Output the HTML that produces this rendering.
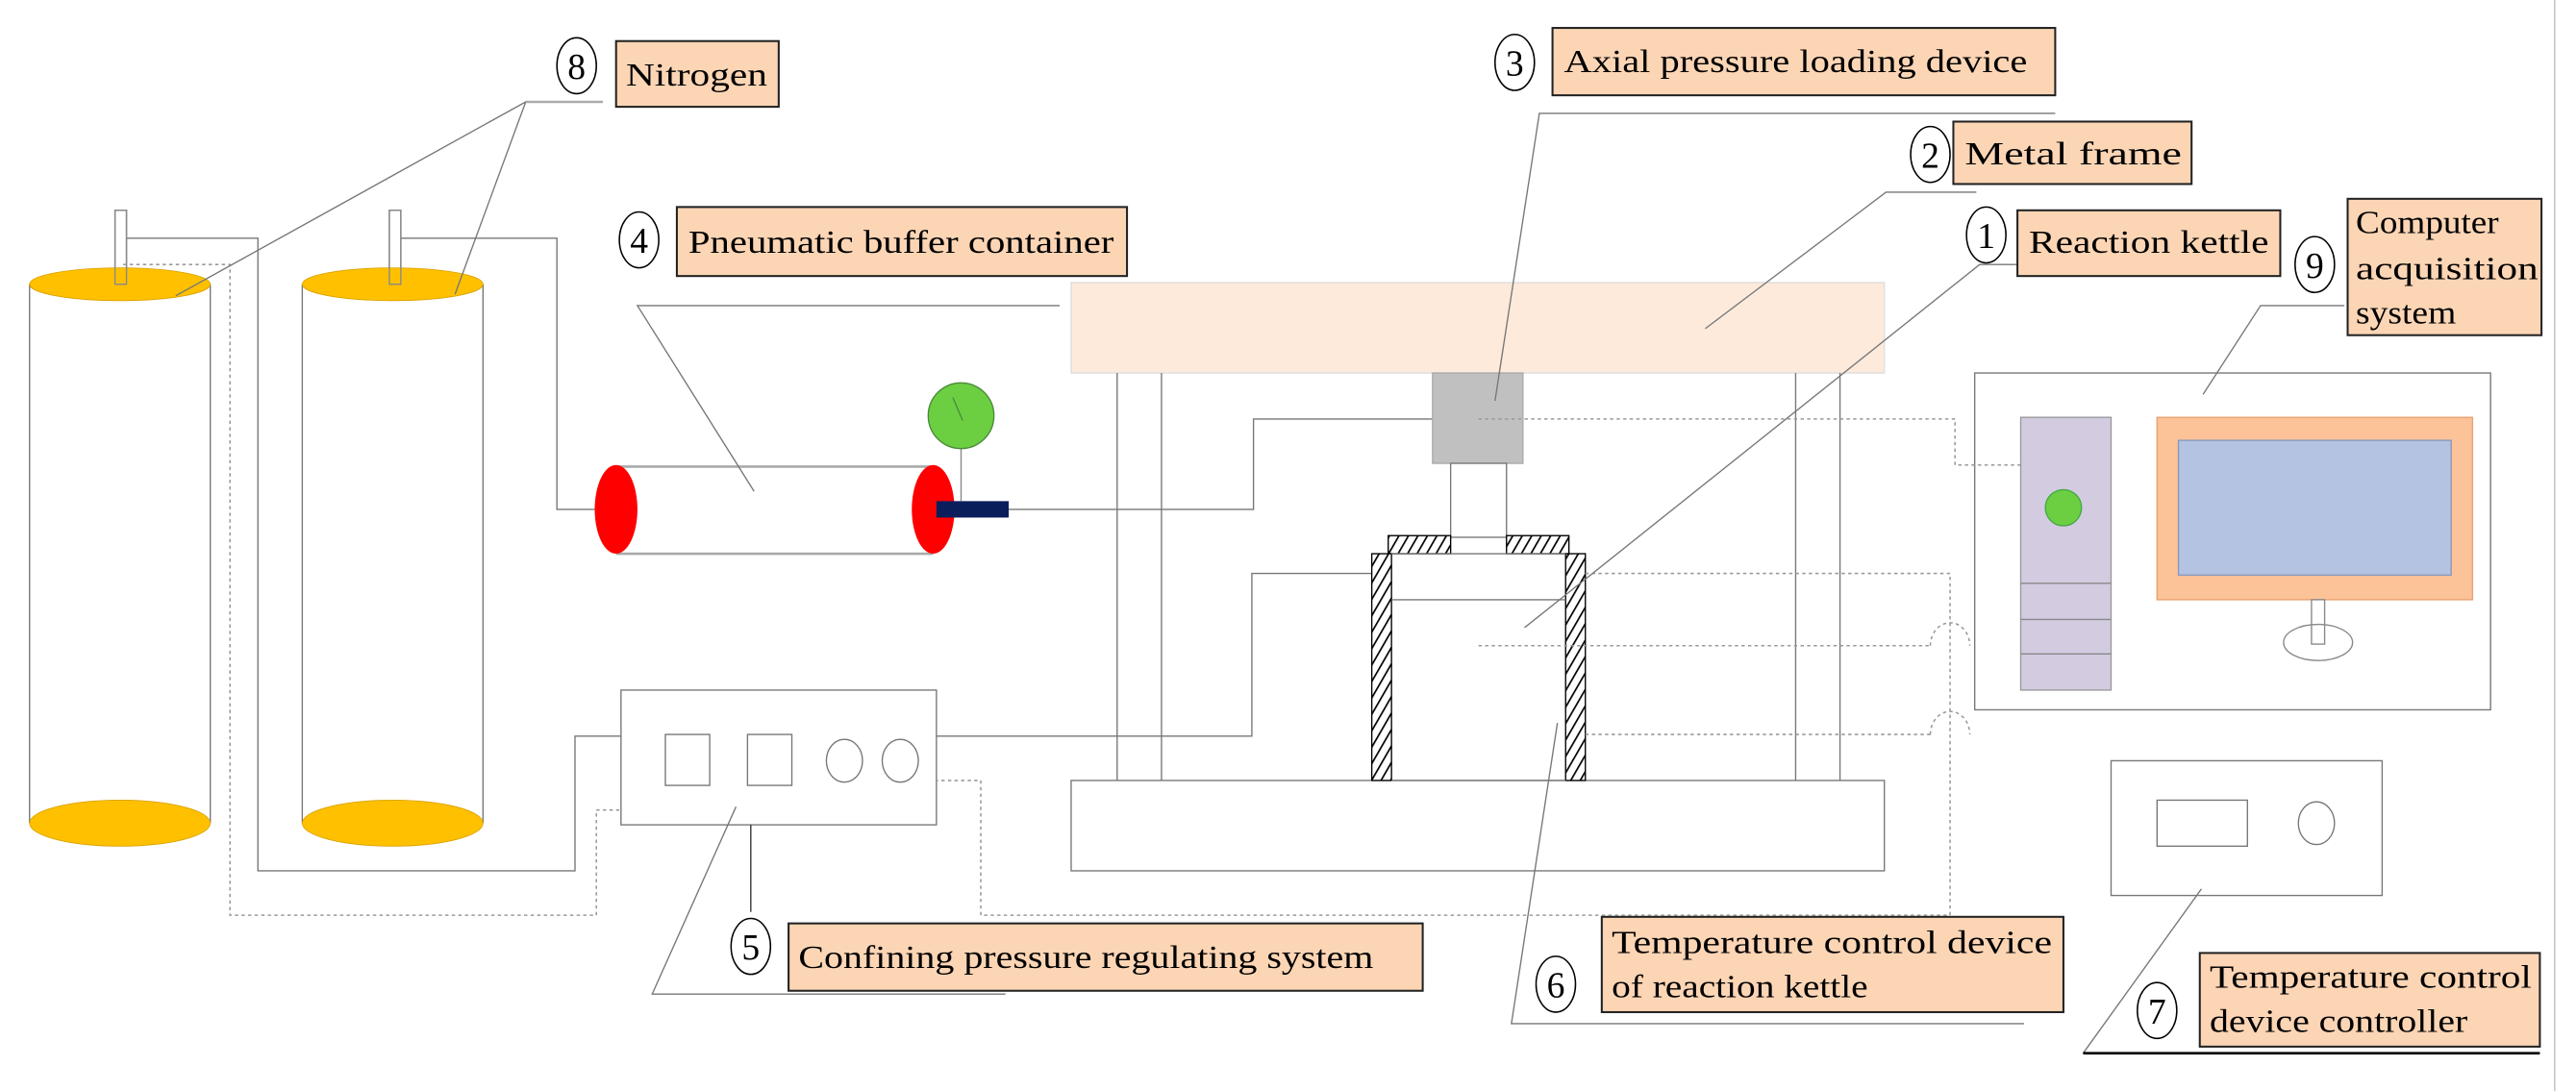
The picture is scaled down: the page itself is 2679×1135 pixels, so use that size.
<!DOCTYPE html>
<html><head><meta charset="utf-8"><style>
html,body{margin:0;padding:0;background:#fff;width:2679px;height:1135px;overflow:hidden}
svg{display:block}
text{font-family:"Liberation Serif",serif;fill:#000}
</style></head><body>
<svg width="2679" height="1135" viewBox="0 0 1568 664" preserveAspectRatio="none" xmlns="http://www.w3.org/2000/svg">
<defs>
<pattern id="h" width="5" height="5" patternUnits="userSpaceOnUse" patternTransform="rotate(30)">
<rect width="5" height="5" fill="#fff"/><line x1="0" y1="0" x2="0" y2="5" stroke="#000" stroke-width="2"/>
</pattern>
</defs>
<g fill="none" stroke="#777" stroke-width="0.8">
<!-- right border -->
<line x1="1555" y1="0" x2="1555" y2="664" stroke="#bbb"/>
<!-- cylinders -->
<line x1="18" y1="173" x2="18" y2="501"/><line x1="128" y1="173" x2="128" y2="501"/>
<line x1="184" y1="173" x2="184" y2="501"/><line x1="294" y1="173" x2="294" y2="501"/>
<rect x="70" y="128" width="7" height="45" fill="#fff"/>
<rect x="237" y="128" width="7" height="45" fill="#fff"/>
<!-- pipes -->
<polyline points="77,145 157,145 157,530 350,530 350,448 378,448"/>
<polyline points="244,145 339,145 339,310 370,310"/>
<polyline points="614,310 763,310 763,255 872,255"/>
<polyline points="570,448 762,448 762,349 835,349"/>
<!-- frame -->
<rect x="652" y="172" width="495" height="55" fill="#fdeadb" stroke="#ddd"/>
<line x1="680" y1="227" x2="680" y2="475"/><line x1="707" y1="227" x2="707" y2="475"/>
<line x1="1093" y1="227" x2="1093" y2="475"/><line x1="1120" y1="227" x2="1120" y2="475"/>
<rect x="652" y="475" width="495" height="55" fill="#fff"/>
<rect x="872" y="227" width="55" height="55" fill="#c0c0c0" stroke="#aaa"/>
<rect x="883" y="282" width="34" height="45" fill="#fff"/>
<rect x="845" y="326" width="38" height="11" fill="url(#h)" stroke="#000"/>
<rect x="917" y="326" width="38" height="11" fill="url(#h)" stroke="#000"/>
<rect x="835" y="337" width="12" height="138" fill="url(#h)" stroke="#000"/>
<rect x="953" y="337" width="12" height="138" fill="url(#h)" stroke="#000"/>
<line x1="847" y1="337" x2="953" y2="337"/><line x1="847" y1="365" x2="953" y2="365"/>
<line x1="847" y1="475" x2="953" y2="475"/>
<!-- buffer -->
<line x1="375" y1="284" x2="568" y2="284" stroke="#aaa" stroke-width="1.5"/>
<line x1="375" y1="337" x2="568" y2="337" stroke="#aaa" stroke-width="1.5"/>
<!-- boxes -->
<rect x="378" y="420" width="192" height="82" fill="#fff"/>
<rect x="405" y="447" width="27" height="31"/><rect x="455" y="447" width="27" height="31"/>
<ellipse cx="514" cy="463" rx="11" ry="13"/><ellipse cx="548" cy="463" rx="11" ry="13"/>
<line x1="457" y1="502" x2="457" y2="555" stroke="#333"/>
<rect x="1285" y="463" width="165" height="82" fill="#fff"/>
<rect x="1313" y="487" width="55" height="28"/>
<ellipse cx="1410" cy="501" rx="11" ry="13"/>
<rect x="1202" y="227" width="314" height="205" fill="#fff"/>
</g>
<!-- computer -->
<rect x="1230" y="254" width="55" height="166" fill="#d3cbe0" stroke="#999" stroke-width="0.8"/>
<g stroke="#888" stroke-width="0.8"><line x1="1230" y1="355" x2="1285" y2="355"/><line x1="1230" y1="377" x2="1285" y2="377"/><line x1="1230" y1="398" x2="1285" y2="398"/></g>
<circle cx="1256" cy="309" r="11" fill="#6ccf42" stroke="#4a4" stroke-width="0.8"/>
<rect x="1313" y="254" width="192" height="111" fill="#fbc397" stroke="#e9a070" stroke-width="0.8"/>
<rect x="1326" y="268" width="166" height="82" fill="#b4c3e2" stroke="#8899bb" stroke-width="0.8"/>
<rect x="1407" y="365" width="8" height="27" fill="#fff" stroke="#888" stroke-width="0.8"/>
<ellipse cx="1411" cy="391" rx="21" ry="11" fill="none" stroke="#888" stroke-width="0.8"/>
<!-- cylinders ends -->
<ellipse cx="73" cy="173" rx="55" ry="10" fill="#ffc000" stroke="#d9a200" stroke-width="0.5"/>
<ellipse cx="239" cy="173" rx="55" ry="10" fill="#ffc000" stroke="#d9a200" stroke-width="0.5"/>
<ellipse cx="73" cy="501" rx="55" ry="14" fill="#ffc000" stroke="#d9a200" stroke-width="0.5"/>
<ellipse cx="239" cy="501" rx="55" ry="14" fill="#ffc000" stroke="#d9a200" stroke-width="0.5"/>
<rect x="70" y="128" width="7" height="45" fill="none" stroke="#888" stroke-width="0.8"/>
<rect x="237" y="128" width="7" height="45" fill="none" stroke="#888" stroke-width="0.8"/>
<ellipse cx="375" cy="310" rx="13" ry="27" fill="#ff0000"/>
<ellipse cx="568" cy="310" rx="13" ry="27" fill="#ff0000"/>
<rect x="570" y="305" width="44" height="10" fill="#0a1e5c"/>
<line x1="585" y1="273" x2="585" y2="305" stroke="#888" stroke-width="0.8"/>
<circle cx="585" cy="253" r="20" fill="#6ccf42" stroke="#4a8a3a" stroke-width="0.8"/>
<line x1="580" y1="242" x2="586" y2="256" stroke="#4a8a3a" stroke-width="0.8"/>
<!-- dotted -->
<g fill="none" stroke="#999" stroke-width="0.9" stroke-dasharray="2,2">
<polyline points="900,255 1190,255 1190,283 1230,283"/>
<polyline points="965,349 1187,349 1187,557 597,557 597,475 570,475"/>
<polyline points="75,161 140,161 140,557 363,557 363,493 378,493"/>
<polyline points="900,393 1175,393 M1199,393 1230,393"/>
<path d="M1175,393 A12,14 0 0 1 1199,393"/>
<polyline points="965,447 1175,447 M1199,447 1250,447 1250,501 1285,501"/>
<path d="M1175,447 A12,14 0 0 1 1199,447"/>
</g>
<!-- leader lines -->
<g fill="none" stroke="#777" stroke-width="0.8">
<polyline points="107,180 320,62 277,179"/><line x1="320" y1="62" x2="367" y2="62" stroke="#aaa" stroke-width="1.5"/>
<polyline points="459,299 388,186 645,186"/>
<polyline points="910,244 937,69 1251,69"/>
<polyline points="1038,200 1148,117 1203,117"/>
<polyline points="928,382 1205,161 1228,161"/>
<polyline points="1341,240 1376,186 1427,186"/>
<polyline points="448,491 397,605 612,605"/>
<polyline points="948,440 920,623 1232,623"/>
<polyline points="1340,541 1268,641"/>
<line x1="1268" y1="641" x2="1546" y2="641" stroke="#000" stroke-width="1.5"/>
</g>
<!-- labels -->
<g stroke="#222" stroke-width="1.2" fill="#fcd5b5">
<rect x="375" y="25" width="99" height="40"/>
<rect x="412" y="126" width="274" height="42"/>
<rect x="945" y="17" width="306" height="41"/>
<rect x="1189" y="74" width="145" height="38"/>
<rect x="1228" y="128" width="160" height="40"/>
<rect x="1429" y="121" width="118" height="83"/>
<rect x="480" y="562" width="386" height="41"/>
<rect x="975" y="558" width="281" height="58"/>
<rect x="1339" y="580" width="207" height="57"/>
</g>
<g fill="none" stroke="#000" stroke-width="0.9">
<ellipse cx="351" cy="40" rx="12" ry="17"/>
<ellipse cx="389" cy="146" rx="12" ry="17"/>
<ellipse cx="922" cy="38" rx="12" ry="17"/>
<ellipse cx="1175" cy="94" rx="12" ry="17"/>
<ellipse cx="1209" cy="143" rx="12" ry="17"/>
<ellipse cx="1409" cy="161" rx="12" ry="17"/>
<ellipse cx="457" cy="576" rx="12" ry="17"/>
<ellipse cx="947" cy="599" rx="12" ry="17"/>
<ellipse cx="1313" cy="615" rx="12" ry="17"/>
</g>
<g font-size="22" text-anchor="middle">
<text x="351" y="48">8</text><text x="389" y="154">4</text><text x="922" y="46">3</text>
<text x="1175" y="102">2</text><text x="1209" y="151">1</text><text x="1409" y="169">9</text>
<text x="457" y="584">5</text><text x="947" y="607">6</text><text x="1313" y="623">7</text>
</g>
<g font-size="20">
<text x="381" y="52" textLength="86" lengthAdjust="spacingAndGlyphs">Nitrogen</text>
<text x="419" y="154" textLength="259" lengthAdjust="spacingAndGlyphs">Pneumatic buffer container</text>
<text x="952" y="44" textLength="282" lengthAdjust="spacingAndGlyphs">Axial pressure loading device</text>
<text x="1196" y="100" textLength="132" lengthAdjust="spacingAndGlyphs">Metal frame</text>
<text x="1235" y="154" textLength="146" lengthAdjust="spacingAndGlyphs">Reaction kettle</text>
<text x="1434" y="142" textLength="87" lengthAdjust="spacingAndGlyphs">Computer</text>
<text x="1434" y="170" textLength="111" lengthAdjust="spacingAndGlyphs">acquisition</text>
<text x="1434" y="197" textLength="61" lengthAdjust="spacingAndGlyphs">system</text>
<text x="486" y="589" textLength="350" lengthAdjust="spacingAndGlyphs">Confining pressure regulating system</text>
<text x="981" y="580" textLength="268" lengthAdjust="spacingAndGlyphs">Temperature control device</text>
<text x="981" y="607" textLength="156" lengthAdjust="spacingAndGlyphs">of reaction kettle</text>
<text x="1345" y="601" textLength="196" lengthAdjust="spacingAndGlyphs">Temperature control</text>
<text x="1345" y="628" textLength="157" lengthAdjust="spacingAndGlyphs">device controller</text>
</g>
</svg>
</body></html>
